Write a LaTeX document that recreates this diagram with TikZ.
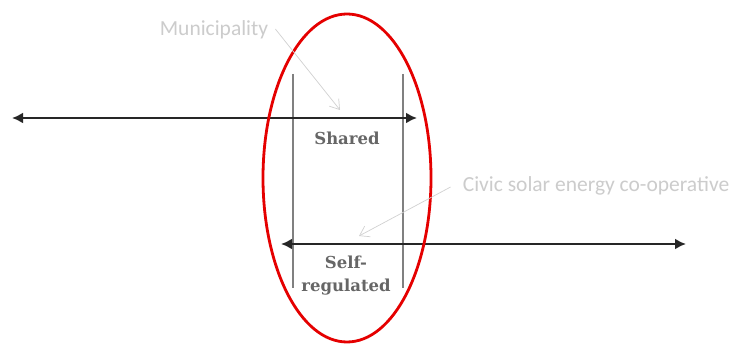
\documentclass[tikz,border=0pt]{standalone}
\usepackage{fontspec}
\setmainfont{DejaVu Serif}
\newfontfamily\labelfont{Carlito}
\usetikzlibrary{arrows.meta,shapes.geometric}
\tikzset{
  axis/.style={line width=2.8pt, draw=black!85, {Latex[length=11pt,width=11pt]}-{Latex[length=11pt,width=11pt]}},
  bar/.style={line width=1.8pt, draw=black!50},
  ring/.style={line width=2.8pt, draw=red!90!black},
  pointer/.style={line width=0.7pt, draw=black!18, -{Straight Barb[length=9pt,width=12pt]}},
  caption/.style={text=black!20, font=\labelfont\fontsize{21.5}{24}\selectfont, inner sep=0pt},
  zone/.style={text=black!60, font=\bfseries\fontsize{16.5}{23}\selectfont, inner sep=0pt, align=center}
}
\begin{document}
\begin{tikzpicture}[x=1pt,y=-1pt]
\useasboundingbox[fill=white] (0,0) rectangle (736,344);
% vertical bars
\coordinate (b1t) at (293,74); \coordinate (b1b) at (293,288);
\coordinate (b2t) at (403,74); \coordinate (b2b) at (403,288);
\draw[bar] (b1t) -- (b1b);
\draw[bar] (b2t) -- (b2b);
% axes
\coordinate (a1l) at (12,118); \coordinate (a1r) at (417,118);
\coordinate (a2l) at (281,244); \coordinate (a2r) at (686,244);
\draw[axis] (a1l) -- (a1r);
\draw[axis] (a2l) -- (a2r);
% ellipse
\node[ring, ellipse, minimum width=168pt, minimum height=328pt, inner sep=0pt] (ring) at (347,178) {};
% labels
\node[zone] (shared) at (347,138) {Shared};
\node[zone] (selfreg) at (346,276) {Self-\\regulated};
\node[caption] (muni) at (214,30) {Municipality};
\node[caption] (civic) at (596,186) {Civic solar energy co-operative};
\coordinate (mtip) at (340,110);
\coordinate (ctip) at (359,236);
\draw[pointer] (muni.east) ++(7,-1) -- (mtip);
\draw[pointer] (civic.west) ++(-12,1) -- (ctip);
\end{tikzpicture}
\end{document}
